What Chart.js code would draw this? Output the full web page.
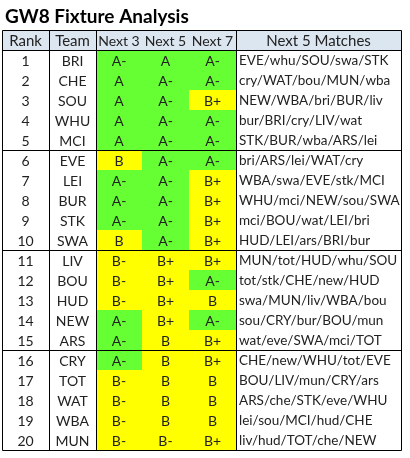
<!DOCTYPE html>
<html>
<head>
<meta charset="utf-8">
<script src="https://cdn.jsdelivr.net/npm/chart.js@4"></script>
<style>
  body { margin: 0; background: #fff; }
  #wrap { position: relative; width: 410px; height: 458px; }
</style>
</head>
<body>
<div id="wrap"><canvas id="fixtureChart" width="410" height="458"></canvas></div>
<script>
// table data
const ranks = [1,2,3,4,5,6,7,8,9,10,11,12,13,14,15,16,17,18,19,20];
const teams = ['BRI','CHE','SOU','WHU','MCI','EVE','LEI','BUR','STK','SWA','LIV','BOU','HUD','NEW','ARS','CRY','TOT','WAT','WBA','MUN'];
const next3 = ['A-','A','A','A','A','B','A-','A-','A-','B','B-','B-','B-','A-','A-','A-','B-','B-','B-','B-'];
const next5 = ['A','A-','A-','A-','A-','A-','A-','A-','A-','A-','B+','B+','B+','B+','B','B','B','B','B','B-'];
const next7 = ['A-','A-','B+','A-','A-','A-','B+','B+','B+','B+','B+','A-','B','A-','B+','B+','B','B','B','B+'];
const matches = [
  'EVE/whu/SOU/swa/STK','cry/WAT/bou/MUN/wba','NEW/WBA/bri/BUR/liv','bur/BRI/cry/LIV/wat','STK/BUR/wba/ARS/lei',
  'bri/ARS/lei/WAT/cry','WBA/swa/EVE/stk/MCI','WHU/mci/NEW/sou/SWA','mci/BOU/wat/LEI/bri','HUD/LEI/ars/BRI/bur',
  'MUN/tot/HUD/whu/SOU','tot/stk/CHE/new/HUD','swa/MUN/liv/WBA/bou','sou/CRY/bur/BOU/mun','wat/eve/SWA/mci/TOT',
  'CHE/new/WHU/tot/EVE','BOU/LIV/mun/CRY/ars','ARS/che/STK/eve/WHU','lei/sou/MCI/hud/CHE','liv/hud/TOT/che/NEW'
];
const headers = ['Rank','Team','Next 3','Next 5','Next 7','Next 5 Matches'];
const title = 'GW8 Fixture Analysis';

// column edges in x-scale units
const colEdges = [0, 47, 94, 140, 187, 234, 399];
const GREEN = '#66ff33', YELLOW = '#ffff00';
const FAMILY = 'Lato, "Open Sans", sans-serif';

function gradeColor(g) { return g[0] === 'A' ? GREEN : YELLOW; }

const tablePlugin = {
  id: 'table',
  afterDraw(chart) {
    const c = chart.ctx, xs = chart.scales.x, ys = chart.scales.y;
    const X = v => xs.getPixelForValue(v), Y = v => ys.getPixelForValue(v);
    const left = X(0), right = X(399);

    // title
    c.fillStyle = '#000';
    c.font = 'bold 19px ' + FAMILY;
    c.textAlign = 'left';
    c.textBaseline = 'middle';
    c.fillText(title, left + 3, Y(0) - 13);

    // header background
    c.fillStyle = '#dce6f1';
    c.fillRect(left, Y(0), right - left, Y(1) - Y(0));

    // grade cells
    [next3, next5, next7].forEach((arr, k) => {
      arr.forEach((g, i) => {
        c.fillStyle = gradeColor(g);
        const x0 = Math.round(X(colEdges[2 + k])), x1 = Math.round(X(colEdges[3 + k]));
        const y0 = Math.round(Y(i + 1)), y1 = Math.round(Y(i + 2));
        c.fillRect(x0, y0, x1 - x0, y1 - y0);
      });
    });

    // text
    c.fillStyle = '#222';
    const mid = k => (X(colEdges[k]) + X(colEdges[k + 1])) / 2;
    c.textAlign = 'center';
    headers.forEach((h, k) => {
      c.font = (k >= 2 && k <= 4 ? '14px ' : '15px ') + FAMILY;
      c.fillText(h, mid(k), Y(0.5) + 1);
    });
    ranks.forEach((r, i) => {
      const y = Y(i + 1.5) + 1;
      c.font = '14px ' + FAMILY;
      c.textAlign = 'center';
      c.fillText(String(r), mid(0), y);
      c.fillText(teams[i], mid(1), y);
      c.fillText(next3[i], mid(2), y);
      c.fillText(next5[i], mid(3), y);
      c.fillText(next7[i], mid(4), y);
      c.font = '13.5px ' + FAMILY;
      c.textAlign = 'left';
      c.fillText(matches[i], X(colEdges[5]) + 3, y);
    });

    // lines
    c.strokeStyle = '#000';
    c.lineWidth = 1;
    const line = (x0, y0, x1, y1) => {
      c.beginPath();
      c.moveTo(Math.round(x0) + 0.5, Math.round(y0) + 0.5);
      c.lineTo(Math.round(x1) + 0.5, Math.round(y1) + 0.5);
      c.stroke();
    };
    const top = Y(0), bottom = Y(21);
    line(left, top, right, top);
    line(left, bottom, right, bottom);
    [0, 1, 2, 5, 6].forEach(k => line(X(colEdges[k]), top, X(colEdges[k]), bottom));
    [1, 6, 11, 16].forEach(r => line(left, Y(r), right, Y(r)));
  }
};

new Chart(document.getElementById('fixtureChart'), {
  type: 'scatter',
  data: { datasets: [{ data: [] }] },
  options: {
    responsive: false,
    animation: false,
    layout: { padding: { left: 2, right: 9, top: 30, bottom: 8 } },
    plugins: {
      legend: { display: false },
      tooltip: { enabled: false },
      title: { display: false }
    },
    scales: {
      x: { type: 'linear', min: 0, max: 399, display: false },
      y: { type: 'linear', min: 0, max: 21, reverse: true, display: false }
    }
  },
  plugins: [tablePlugin]
});
</script>
</body>
</html>
